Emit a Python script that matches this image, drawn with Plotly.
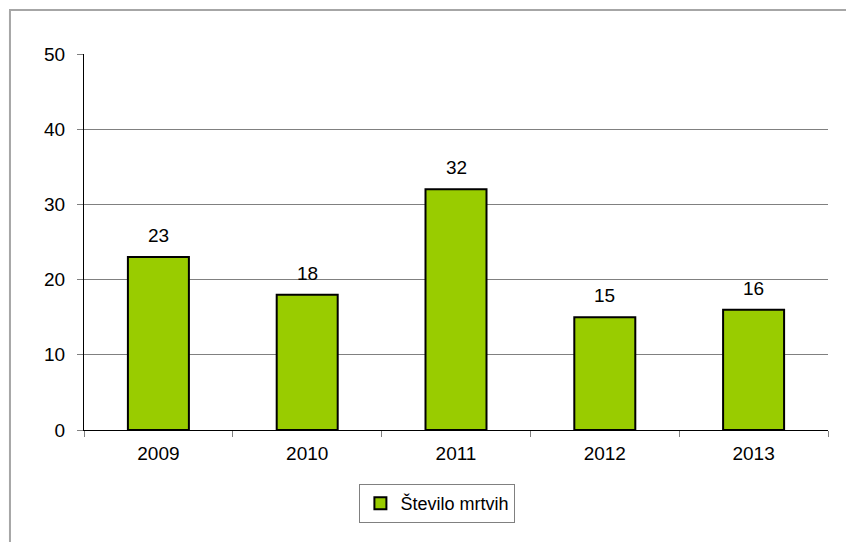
import plotly.graph_objects as go

years = ['2009', '2010', '2011', '2012', '2013']
deaths = [23, 18, 32, 15, 16]
series_name = 'Število mrtvih'

font = 'Liberation Sans, Arial, sans-serif'

fig = go.Figure()
fig.add_trace(go.Bar(
    x=years,
    y=deaths,
    name=series_name,
    width=0.41,
    marker=dict(color='#99CC00', line=dict(color='black', width=2)),
    showlegend=True,
))

# value labels above the bars (category axis -> use category index)
for i, v in enumerate(deaths):
    fig.add_annotation(
        x=i, y=v, text=str(v),
        showarrow=False, yanchor='bottom', yshift=9,
        font=dict(size=19, color='black', family=font),
    )

# page body adds 8px offset, so margins are shifted by 8px
fig.update_layout(
    width=854, height=542,
    margin=dict(l=76, r=34, t=46, b=120),
    plot_bgcolor='white',
    paper_bgcolor='white',
    font=dict(family=font, size=19, color='black'),
    showlegend=True,
    legend=dict(
        x=0.475, y=-0.1436, xanchor='center', yanchor='top',
        bordercolor='#808080', borderwidth=1,
        font=dict(size=18, color='black'),
        itemwidth=30,
    ),
    shapes=[dict(
        type='rect', xref='paper', yref='paper',
        x0=-0.0995, x1=1.2, y0=-0.5, y1=1.117,
        line=dict(color='#A6A6A6', width=2),
        layer='below',
    )],
)

fig.update_xaxes(
    type='category',
    showline=True, linecolor='black', linewidth=1,
    ticks='outside', tickson='boundaries', tickcolor='#808080', ticklen=6,
    ticklabelstandoff=6,
    showgrid=False,
)
fig.update_yaxes(
    range=[0, 50], dtick=10,
    showline=True, linecolor='black', linewidth=1,
    ticks='outside', tickcolor='#808080', ticklen=6,
    ticklabelstandoff=8,
    showgrid=True, gridcolor='#808080', gridwidth=1,
    zeroline=False,
)

fig.write_html("out.html")
